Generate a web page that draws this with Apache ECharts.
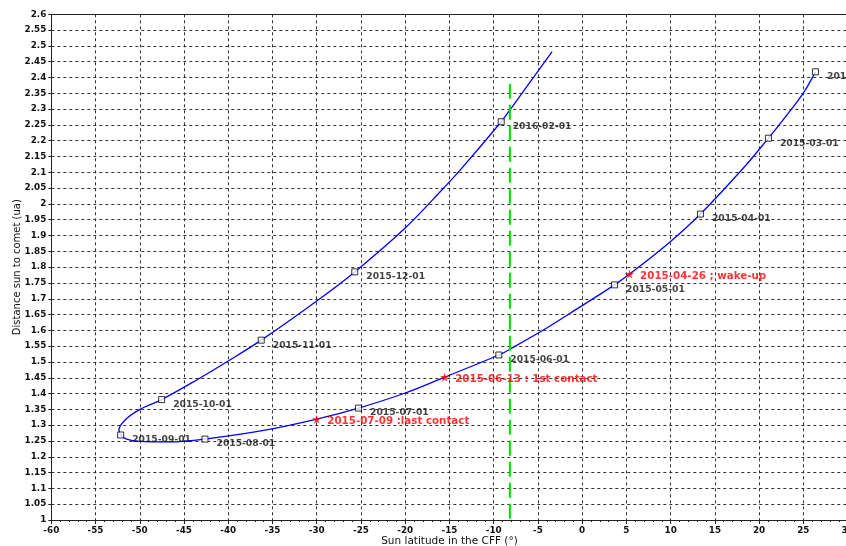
<!DOCTYPE html>
<html>
<head>
<meta charset="utf-8">
<script src="https://cdn.jsdelivr.net/npm/echarts@6/dist/echarts.min.js"></script>
<style>
html, body { margin: 0; padding: 0; background: #fff; }
#chart { width: 846px; height: 546px; }
</style>
</head>
<body>
<div id="chart"></div>
<script>
// Comet track: sun latitude in the CFF (deg) and sun distance (ua), in time order
const trackLat = [26.37, 24.97, 22.71, 21.05, 18.17, 13.37, 9.9, 5.36, 3.66, -0.36, -3.91, -8.12, -9.42,
  -15.54, -20.07, -25.28, -30.0, -35.66, -42.63, -46.6, -50.0, -51.5, -52.16, -52.35, -51.6,
  -49.98, -47.53, -43.57, -40.0, -36.27, -30.0, -25.7, -20.03, -15.7, -13.82, -9.15, -8.17, -3.4];
const trackDist = [2.418, 2.35, 2.266, 2.208, 2.112, 1.968, 1.879, 1.778, 1.744, 1.672, 1.609, 1.541, 1.522,
  1.452, 1.401, 1.354, 1.319, 1.285, 1.256, 1.247, 1.249, 1.256, 1.269, 1.285, 1.318,
  1.350, 1.381, 1.443, 1.503, 1.569, 1.693, 1.785, 1.923, 2.049, 2.106, 2.26, 2.297, 2.482];

// Monthly positions
const monthDates = ['2015-02-01', '2015-03-01', '2015-04-01', '2015-05-01', '2015-06-01', '2015-07-01',
  '2015-08-01', '2015-09-01', '2015-10-01', '2015-11-01', '2015-12-01', '2016-02-01'];
const monthLat = [26.37, 21.05, 13.37, 3.66, -9.42, -25.28, -42.63, -52.16, -47.53, -36.27, -25.7, -9.15];
const monthDist = [2.418, 2.208, 1.968, 1.744, 1.522, 1.354, 1.256, 1.269, 1.381, 1.569, 1.785, 2.26];

// Lander events
const eventText = ['2015-04-26 ; wake-up', '2015-06-13 : 1st contact', '2015-07-09 :last contact'];
const eventLat = [5.36, -15.54, -30.0];
const eventDist = [1.778, 1.452, 1.319];

// Reference latitude marker
const refLat = [-8.17, -8.17];
const refDist = [2.38, 1.0];

// Axis ranges
const xRange = [-60, 30, 5];
const yRange = [1, 2.6, 0.05];

const zip = (a, b) => a.map((v, i) => [v, b[i]]);

const starPath = 'path://M50,0 L61,35 L98,35 L68,57 L79,91 L50,70 L21,91 L32,57 L2,35 L39,35 Z';
const axisColor = '#222';
const gridLine = { show: true, lineStyle: { color: '#333', width: 1, type: [3, 3] } };
const tickFont = { fontFamily: 'DejaVu Sans', fontWeight: 'bold', fontSize: 8.8, color: '#111' };

const chart = echarts.init(document.getElementById('chart'), null, { renderer: 'canvas' });

chart.setOption({
  animation: false,
  backgroundColor: '#fff',
  grid: { left: 51.3, top: 14.3, width: 796.3, height: 505.7, containLabel: false, outerBoundsMode: 'none' },
  xAxis: [{
    type: 'value', min: xRange[0], max: xRange[1], interval: xRange[2],
    name: 'Sun latitude in the CFF (°)', nameLocation: 'middle', nameGap: 16, nameMoveOverlap: false,
    nameTextStyle: { fontFamily: 'DejaVu Sans', fontSize: 10.5, color: '#111' },
    axisLine: { show: true, onZero: false, lineStyle: { color: axisColor, width: 1 } },
    axisTick: { show: true, inside: false, length: 4, lineStyle: { color: axisColor } },
    minorTick: { show: true, splitNumber: 5, length: 2, lineStyle: { color: axisColor } },
    axisLabel: Object.assign({ margin: 6, showMaxLabel: true, showMinLabel: true }, tickFont),
    splitLine: gridLine
  }, {
    type: 'value', position: 'top', min: xRange[0], max: xRange[1],
    axisLine: { show: true, onZero: false, lineStyle: { color: axisColor, width: 1 } },
    axisTick: { show: false }, axisLabel: { show: false }, splitLine: { show: false }
  }],
  yAxis: {
    type: 'value', min: yRange[0], max: yRange[1], interval: yRange[2],
    name: 'Distance sun to comet (ua)', nameLocation: 'middle', nameGap: 29, nameMoveOverlap: false,
    nameTextStyle: { fontFamily: 'DejaVu Sans', fontSize: 10, color: '#111' },
    axisLine: { show: true, onZero: false, lineStyle: { color: axisColor, width: 1 } },
    axisTick: { show: true, inside: false, length: 3, lineStyle: { color: axisColor } },
    axisLabel: Object.assign({ margin: 5, showMaxLabel: true, showMinLabel: true }, tickFont),
    splitLine: gridLine
  },
  series: [{
    type: 'line',
    data: zip(trackLat, trackDist),
    smooth: 0.35,
    showSymbol: false,
    symbol: 'none',
    lineStyle: { color: '#0000ff', width: 1.3 },
    z: 2
  }, {
    type: 'scatter',
    data: zip(monthLat, monthDist),
    symbol: 'rect',
    symbolSize: 6,
    itemStyle: { color: '#fff', borderColor: '#000', borderWidth: 1 },
    label: {
      show: true, position: 'right', distance: 8, offset: [0, 5],
      formatter: p => monthDates[p.dataIndex],
      fontFamily: 'DejaVu Sans', fontWeight: 'bold', fontSize: 9.2, color: '#111'
    },
    z: 4
  }, {
    type: 'scatter',
    data: zip(eventLat, eventDist),
    symbol: starPath,
    symbolSize: 9,
    itemStyle: { color: '#ff0000' },
    label: {
      show: true, position: 'right', distance: 6, offset: [0, 2],
      formatter: p => eventText[p.dataIndex],
      fontFamily: 'DejaVu Sans', fontWeight: 'bold', fontSize: 10.3, color: '#ff0000'
    },
    z: 5
  }, {
    type: 'line',
    data: zip(refLat, refDist),
    symbol: 'none',
    lineStyle: { color: '#00e000', width: 2, type: [15, 6] },
    z: 3
  }]
});
</script>
</body>
</html>
